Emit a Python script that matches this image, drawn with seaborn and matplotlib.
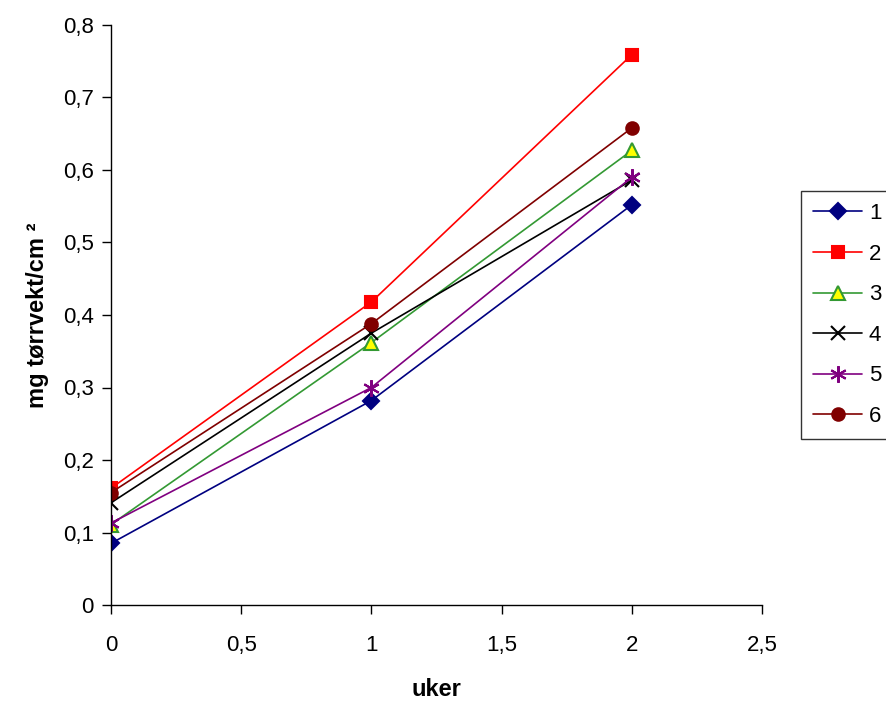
import matplotlib
matplotlib.use("Agg")
import matplotlib.pyplot as plt
import seaborn as sns
import pandas as pd
from matplotlib.ticker import FuncFormatter, MultipleLocator

weeks = [0, 1, 2]
series_names = ["1", "2", "3", "4", "5", "6"]
s1 = [0.085, 0.282, 0.552]
s2 = [0.161, 0.418, 0.759]
s3 = [0.111, 0.362, 0.627]
s4 = [0.141, 0.375, 0.586]
s5 = [0.113, 0.300, 0.590]
s6 = [0.155, 0.388, 0.658]
values = [s1, s2, s3, s4, s5, s6]

rows = []
for name, vals in zip(series_names, values):
    for w, v in zip(weeks, vals):
        rows.append({"uker": w, "verdi": v, "serie": name})
df = pd.DataFrame(rows)

sns.set_style("white")
plt.rcParams['font.family'] = ['Liberation Sans', 'DejaVu Sans']
plt.rcParams['text.color'] = 'black'
plt.rcParams['axes.labelcolor'] = 'black'
plt.rcParams['xtick.color'] = 'black'
plt.rcParams['ytick.color'] = 'black'

styles = {
    "1": dict(color="#000080", marker="D", mfc="#000080", mec="#000080", ms=8),
    "2": dict(color="#FF0000", marker="s", mfc="#FF0000", mec="#FF0000", ms=9),
    "3": dict(color="#339933", marker="^", mfc="#FFFF00", mec="#339933", ms=10),
    "4": dict(color="#000000", marker="x", mfc="#000000", mec="#000000", ms=10),
    "5": dict(color="#800080", marker=(6, 2, 0), mfc="#800080", mec="#800080", ms=12),
    "6": dict(color="#800000", marker="o", mfc="#800000", mec="#800000", ms=9),
}

fig = plt.figure(figsize=(8.86, 7.02), dpi=100)
ax = fig.add_axes([111/886, 1-605/702, (762-111)/886, (605-25)/702])

for name in series_names:
    st = styles[name]
    sub = df[df["serie"] == name]
    sns.lineplot(data=sub, x="uker", y="verdi", ax=ax, color=st["color"],
                 marker=st["marker"], markerfacecolor=st["mfc"],
                 markeredgecolor=st["mec"], markersize=st["ms"],
                 markeredgewidth=1.5, linewidth=1.2, label=name, legend=False)

ax.set_xlim(0, 2.5)
ax.set_ylim(0, 0.8)
ax.xaxis.set_major_locator(MultipleLocator(0.5))
ax.yaxis.set_major_locator(MultipleLocator(0.1))
fmt = FuncFormatter(lambda v, p: ("%g" % round(v, 2)).replace(".", ","))
ax.xaxis.set_major_formatter(fmt)
ax.yaxis.set_major_formatter(fmt)

for s in ["top", "right"]:
    ax.spines[s].set_visible(False)
for s in ["left", "bottom"]:
    ax.spines[s].set_color("black")
    ax.spines[s].set_linewidth(1.0)
ax.tick_params(axis="both", bottom=True, left=True, direction="out",
               length=6.5, width=1, color="black", labelcolor="black",
               labelsize=16)
ax.tick_params(axis="y", pad=6)
ax.tick_params(axis="x", pad=15)

ax.set_xlabel("uker", fontsize=17, fontweight="bold", labelpad=16, color="black")
ax.set_ylabel("mg tørrvekt/cm ²", fontsize=17, fontweight="bold", labelpad=10, color="black")

handles, labels = ax.get_legend_handles_labels()
leg = fig.legend(handles, labels, loc="upper left",
                 bbox_to_anchor=(801/886, 1-191/702), frameon=True,
                 fancybox=False, edgecolor="black", fontsize=16,
                 handlelength=2.2, labelspacing=0.88, borderpad=0.55,
                 handletextpad=0.3, borderaxespad=0)
leg.get_frame().set_linewidth(1.0)
for t in leg.get_texts():
    t.set_color("black")

fig.savefig("out.png", dpi=100)
